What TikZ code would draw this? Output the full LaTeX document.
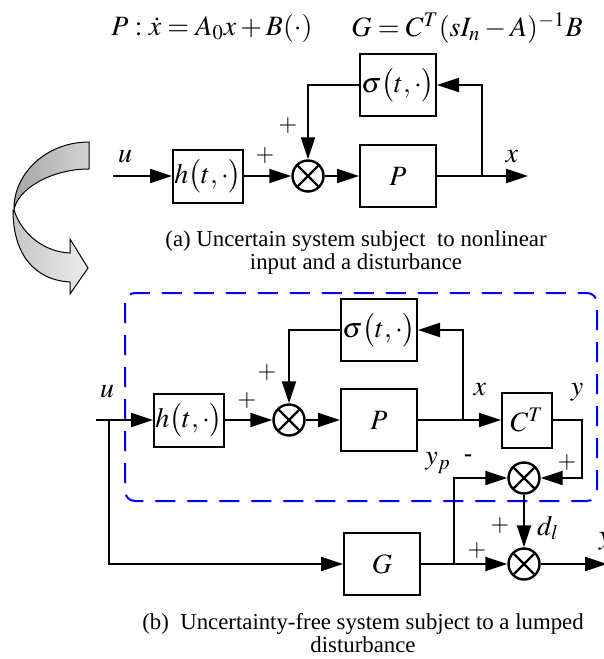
\documentclass[tikz,border=0pt]{standalone}
\usepackage{amsmath}
\usepackage{mathptmx}
\usepackage{fontspec}
\setmainfont{Liberation Serif}
\usetikzlibrary{arrows.meta}

\newcommand{\mathsz}{\fontsize{14}{16}\selectfont}
\newcommand{\signsz}{\fontsize{12}{14}\selectfont}

\begin{document}
\begin{tikzpicture}[x=0.5pt, y=-0.5pt, ->, >={Triangle[length=11pt, width=7pt]},
                    line width=1pt, node distance=45pt]
    \tikzstyle{block}=[draw, rectangle, minimum width=38pt, minimum height=31pt,
                       inner sep=0pt, font=\mathsz]
    \tikzstyle{hblock}=[block, minimum width=35pt, minimum height=26.5pt]
    \tikzstyle{summer}=[draw, circle, minimum size=15.5pt, inner sep=0pt, line width=1.2pt,
                        path picture={\draw[-] (path picture bounding box.north west) -- (path picture bounding box.south east)
                                               (path picture bounding box.south west) -- (path picture bounding box.north east);}]
    \tikzstyle{sign}=[inner sep=0pt, font=\signsz]
    \tikzstyle{var}=[inner sep=0pt, font=\mathsz]
    \tikzstyle{caption}=[inner sep=0pt, anchor=base, font=\fontsize{11.4}{13}\selectfont]

    \useasboundingbox (0,0) rectangle (604,659);

    % top formulas
    \node[var] (fP) at (212,28) {$P:\dot{x}=A_0x+B(\cdot)$};
    \node[var] (fG) at (467,28) {$G=C^{T}(sI_n-A)^{-1}B$};

    % (a) uncertain system
    \node[hblock] (h1) at (208,176) {$h\bigl(t,\cdot\bigr)$};
    \node[summer] (s1) [right of=h1, node distance=50pt] {};
    \node[block]  (P1) [right of=s1] {$P$};
    \node[block]  (sig1) [above of=P1, node distance=45.5pt] {$\sigma\bigl(t,\cdot\bigr)$};

    \coordinate (u1) at (113,176);
    \coordinate (x1) at (528,176);
    \coordinate (b1) at (482,176);

    \draw (u1) -- (h1);
    \draw (h1) -- (s1);
    \draw (s1) -- (P1);
    \draw (P1) -- (x1);
    \draw (b1) |- (sig1);
    \draw (sig1) -| (s1);

    \node[var]  (lu1) at (125,157) {$u$};
    \node[var]  (lx1) at (512,157) {$x$};
    \node[sign] (pa1) at (265,156) {$+$};
    \node[sign] (pa2) at (288,126) {$+$};

    \node[caption] (capa1) at (356,246) {(a) Uncertain system subject\ \ to nonlinear};
    \node[caption] (capa2) at (356,269) {input and a disturbance};

    % curved arrow between (a) and (b)
    \draw[-, line width=0.5pt, left color=gray!45, right color=gray!15]
        (14,210) .. controls (22,235) and (45,252) .. (70,253) -- (70,239) -- (88,268)
        -- (70,294) -- (70,282) .. controls (35,280) and (13,255) .. (13,210) -- cycle;
    \draw[-, line width=0.5pt, left color=gray!70, right color=gray!35]
        (89,142) -- (89,169) .. controls (50,169) and (17,190) .. (14,210)
        .. controls (13,175) and (45,142) .. (89,142) -- cycle;

    % (b) uncertainty-free system
    \draw[-, blue, dash pattern=on 10pt off 6pt, rounded corners=5pt] (125,293) rectangle (597,501);

    \node[hblock] (h2) at (189,420) {$h\bigl(t,\cdot\bigr)$};
    \node[summer] (s2) [right of=h2, node distance=50pt] {};
    \node[block]  (P2) [right of=s2] {$P$};
    \node[block]  (sig2) [above of=P2] {$\sigma\bigl(t,\cdot\bigr)$};
    \node[block, minimum width=25pt, minimum height=27.5pt] (CT) [right of=P2, node distance=74pt] {$C^{T}$};
    \node[summer] (s3) at (524,478) {};
    \node[summer] (s4) [below of=s3, node distance=43pt] {};
    \node[block]  (G) [left of=s4, node distance=71pt] {$G$};

    \coordinate (u2) at (96,420);
    \coordinate (b2) at (109,420);
    \coordinate (b3) at (463,420);
    \coordinate (b4) at (454,564);
    \coordinate (c1) at (582,420);
    \coordinate (y2) at (607,564);

    \draw (u2) -- (h2);
    \draw (h2) -- (s2);
    \draw (s2) -- (P2);
    \draw (P2) -- (CT);
    \draw (b3) |- (sig2);
    \draw (sig2) -| (s2);
    \draw (b2) |- (G);
    \draw (G) -- (s4);
    \draw (b4) |- (s3);
    \draw (CT) -- (c1) |- (s3);
    \draw (s3) -- (s4);
    \draw (s4) -- (y2);

    \node[var]  (lu2) at (107,392) {$u$};
    \node[var]  (lx2) at (480,390) {$x$};
    \node[var]  (ly2) at (577,392) {$y$};
    \node[var]  (lyp) at (438,463) {$y_p$};
    \node[var]  (ldl) at (548,528) {$d_l$};
    \node[var]  (lyo) at (605,541) {$y$};
    \node[sign] (pb1) at (247,401) {$+$};
    \node[sign] (pb2) at (267,373) {$+$};
    \node[sign] (mb3) at (468,458) {\textbf{-}};
    \node[sign] (pb4) at (567,462) {$+$};
    \node[sign] (pb5) at (500,525) {$+$};
    \node[sign] (pb6) at (477,550) {$+$};

    \node[caption] (capb1) at (363,629) {(b)\ \ Uncertainty-free system subject to a lumped};
    \node[caption] (capb2) at (363,652) {disturbance};
\end{tikzpicture}
\end{document}
